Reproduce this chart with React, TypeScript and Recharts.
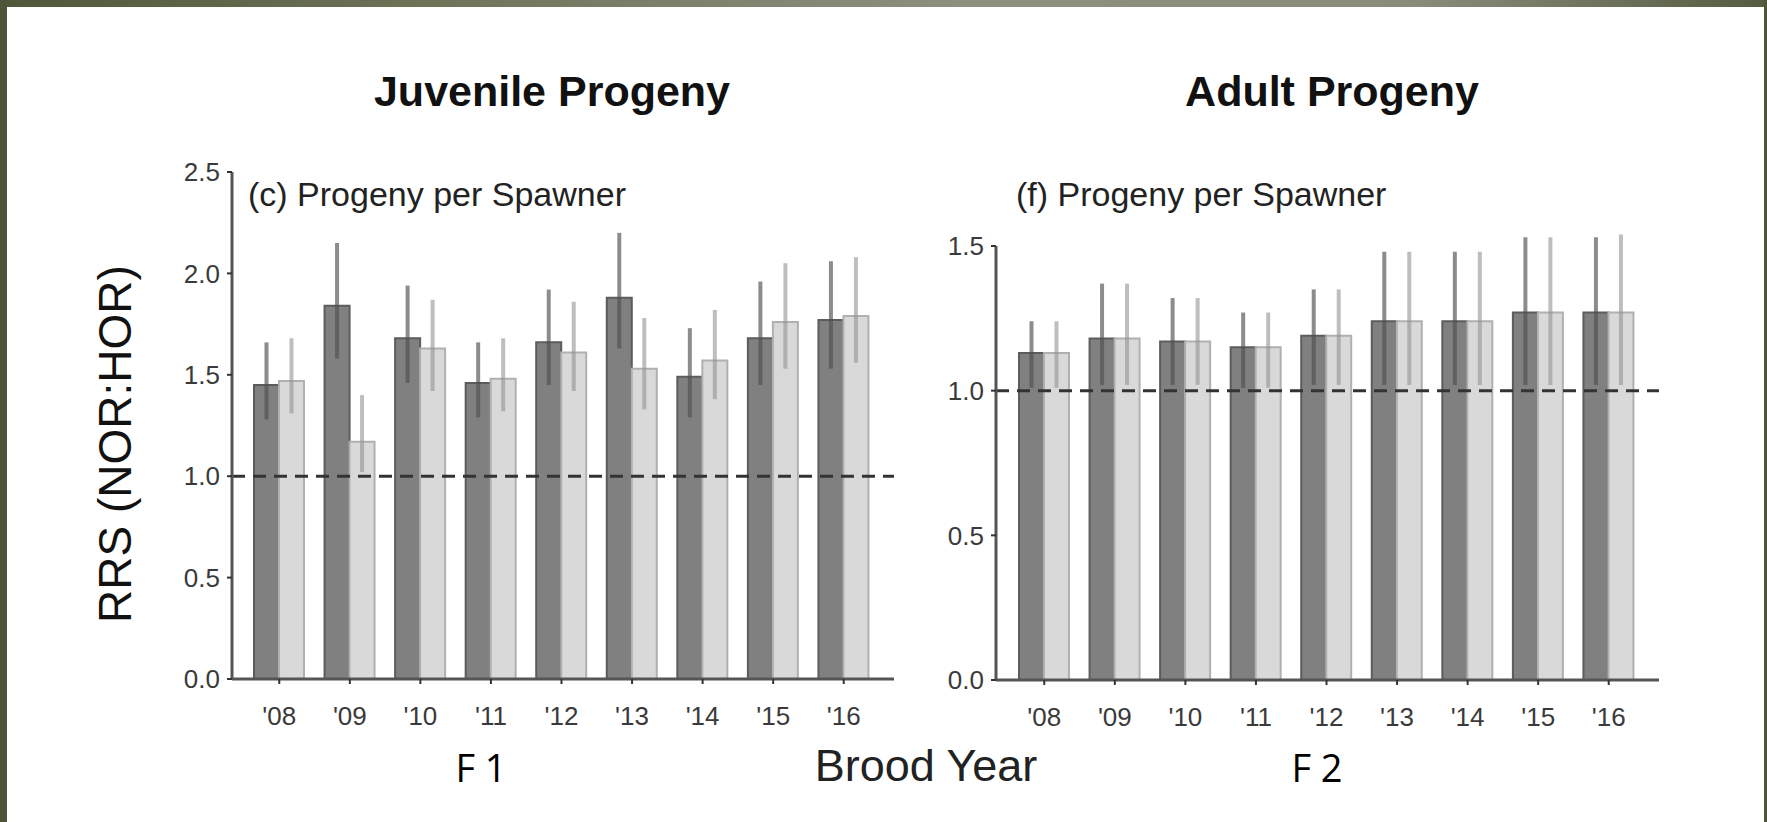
import React from "react";
import { BarChart, Bar, XAxis, YAxis, ErrorBar, ReferenceLine } from "recharts";

// brood years shared by both panels
const years = ["'08", "'09", "'10", "'11", "'12", "'13", "'14", "'15", "'16"];

// (c) juvenile progeny per spawner
const juvNor = [1.45, 1.84, 1.68, 1.46, 1.66, 1.88, 1.49, 1.68, 1.77];
const juvNorLo = [1.28, 1.58, 1.46, 1.29, 1.45, 1.63, 1.29, 1.45, 1.53];
const juvNorHi = [1.66, 2.15, 1.94, 1.66, 1.92, 2.2, 1.73, 1.96, 2.06];
const juvHor = [1.47, 1.17, 1.63, 1.48, 1.61, 1.53, 1.57, 1.76, 1.79];
const juvHorLo = [1.31, 1.02, 1.42, 1.32, 1.42, 1.33, 1.38, 1.53, 1.56];
const juvHorHi = [1.68, 1.4, 1.87, 1.68, 1.86, 1.78, 1.82, 2.05, 2.08];

// (f) adult progeny per spawner
const adNor = [1.13, 1.18, 1.17, 1.15, 1.19, 1.24, 1.24, 1.27, 1.27];
const adNorLo = [1.01, 1.02, 1.02, 1.01, 1.02, 1.02, 1.02, 1.02, 1.02];
const adNorHi = [1.24, 1.37, 1.32, 1.27, 1.35, 1.48, 1.48, 1.53, 1.53];
const adHor = [1.13, 1.18, 1.17, 1.15, 1.19, 1.24, 1.24, 1.27, 1.27];
const adHorLo = [1.01, 1.02, 1.02, 1.01, 1.02, 1.02, 1.02, 1.02, 1.02];
const adHorHi = [1.24, 1.37, 1.32, 1.27, 1.35, 1.48, 1.48, 1.53, 1.54];

const juvTicks = [0, 0.5, 1, 1.5, 2, 2.5];
const adTicks = [0, 0.5, 1, 1.5];

const FONT = "'Liberation Sans', Arial, sans-serif";
const AXIS = "#555";
const TICK = "#3a3a3a";

function buildRows(nor: number[], norLo: number[], norHi: number[], hor: number[], horLo: number[], horHi: number[]) {
  return years.map((year, i) => ({
    year,
    nor: nor[i],
    norErr: [nor[i] - norLo[i], norHi[i] - nor[i]],
    hor: hor[i],
    horErr: [hor[i] - horLo[i], horHi[i] - hor[i]],
  }));
}

function Panel({
  data,
  left,
  width,
  margin,
  domain,
  ticks,
  padding,
}: {
  data: any[];
  left: number;
  width: number;
  margin: { top: number; right: number; bottom: number; left: number };
  domain: [number, number];
  ticks: number[];
  padding: { left: number; right: number };
}) {
  return (
    <div style={{ position: "absolute", left, top: 0 }}>
      <BarChart width={width} height={822} data={data} margin={margin} barGap={0} barSize={25}>
        <XAxis
          dataKey="year"
          interval={0}
          padding={padding}
          height={60}
          axisLine={{ stroke: AXIS, strokeWidth: 3 }}
          tickLine={{ stroke: "#333", strokeWidth: 2 }}
          tickSize={5}
          tickMargin={23}
          tick={{ fill: TICK, fontSize: 26, fontFamily: FONT }}
        />
        <YAxis
          domain={domain}
          ticks={ticks}
          allowDataOverflow
          width={60}
          tickFormatter={(v: number) => v.toFixed(1)}
          axisLine={{ stroke: AXIS, strokeWidth: 3 }}
          tickLine={{ stroke: "#333", strokeWidth: 2 }}
          tickSize={5}
          tickMargin={7}
          tick={{ fill: TICK, fontSize: 26, fontFamily: FONT }}
        />
        <Bar dataKey="nor" fill="#808080" stroke="#5c5c5c" strokeWidth={2} isAnimationActive={false}>
          <ErrorBar dataKey="norErr" width={0} strokeWidth={4} stroke="rgba(78,78,78,0.65)" />
        </Bar>
        <Bar dataKey="hor" fill="#d9d9d9" stroke="#b0b0b0" strokeWidth={2} isAnimationActive={false}>
          <ErrorBar dataKey="horErr" width={0} strokeWidth={4} stroke="rgba(146,146,146,0.6)" />
        </Bar>
        <ReferenceLine y={1} stroke="#333" strokeWidth={3} strokeDasharray="13 8" />
      </BarChart>
    </div>
  );
}

export default function App() {
  const juvData = buildRows(juvNor, juvNorLo, juvNorHi, juvHor, juvHorLo, juvHorHi);
  const adData = buildRows(adNor, adNorLo, adNorHi, adHor, adHorLo, adHorHi);

  return (
    <div
      style={{
        position: "absolute",
        left: 0,
        top: 0,
        width: 1767,
        height: 822,
        background: "#fff",
        overflow: "hidden",
        fontFamily: FONT,
      }}
    >
      <Panel
        data={juvData}
        left={0}
        width={920}
        margin={{ top: 172, right: 26, bottom: 83, left: 172 }}
        domain={[0, 2.5]}
        ticks={juvTicks}
        padding={{ left: 12, right: 15 }}
      />
      <Panel
        data={adData}
        left={920}
        width={847}
        margin={{ top: 246, right: 108, bottom: 82, left: 16 }}
        domain={[0, 1.5]}
        ticks={adTicks}
        padding={{ left: 13, right: 15 }}
      />

      <svg width={1767} height={822} style={{ position: "absolute", left: 0, top: 0, pointerEvents: "none" }}>
        <text x={552} y={106} textAnchor="middle" fontSize={43} fontWeight="bold" fill="#111" fontFamily={FONT}>
          Juvenile Progeny
        </text>
        <text x={1332} y={106} textAnchor="middle" fontSize={43} fontWeight="bold" fill="#111" fontFamily={FONT}>
          Adult Progeny
        </text>
        <text x={248} y={206} fontSize={34} fill="#222" fontFamily={FONT}>
          (c) Progeny per Spawner
        </text>
        <text x={1016} y={206} fontSize={34} fill="#222" fontFamily={FONT}>
          (f) Progeny per Spawner
        </text>
        <text
          x={131}
          y={444}
          textAnchor="middle"
          fontSize={46}
          fill="#111"
          fontFamily={FONT}
          transform="rotate(-90 131 444)"
        >
          RRS (NOR:HOR)
        </text>
        <text x={926} y={781} textAnchor="middle" fontSize={45} fill="#222" fontFamily={FONT}>
          Brood Year
        </text>
        <text x={481} y={782} textAnchor="middle" fontSize={38} fill="#000" fontFamily="'Open Sans', sans-serif">
          F 1
        </text>
        <text x={1317} y={782} textAnchor="middle" fontSize={38} fill="#000" fontFamily="'Open Sans', sans-serif">
          F 2
        </text>
      </svg>

      {/* olive frame */}
      <div style={{ position: "absolute", left: 0, top: 0, width: 1767, height: 7, background: "linear-gradient(to right, #4f573a, #6f7459 25%, #8e9080 55%, #8a8c7b 80%, #555c40)" }} />
      <div style={{ position: "absolute", left: 0, top: 0, width: 7, height: 822, background: "#4d5438" }} />
      <div style={{ position: "absolute", right: 0, top: 0, width: 3, height: 822, background: "#4d5438" }} />
    </div>
  );
}
